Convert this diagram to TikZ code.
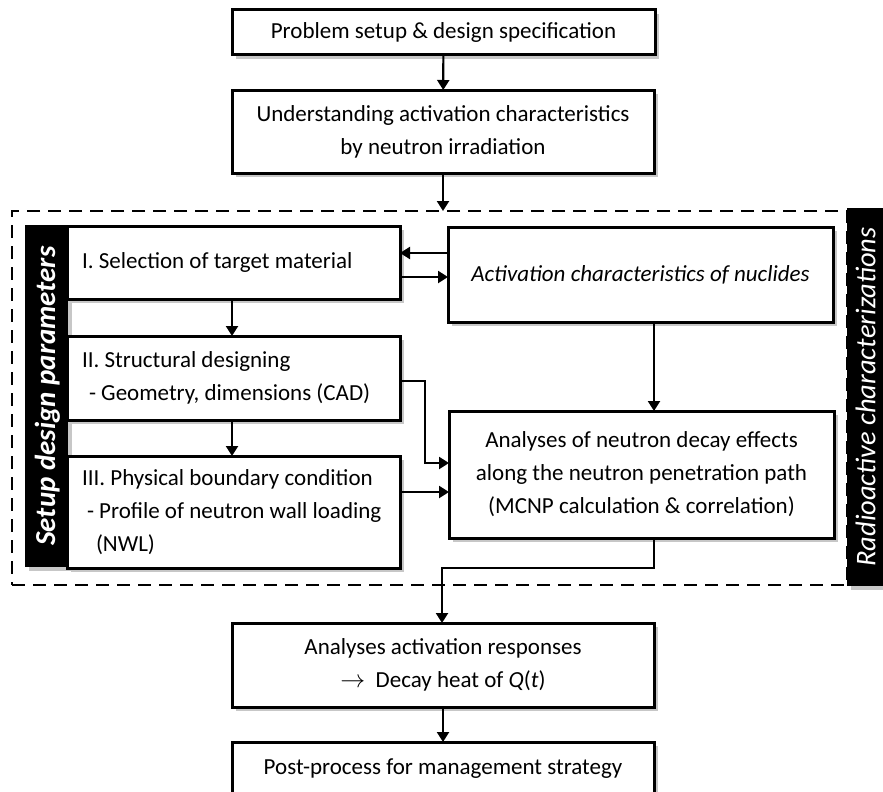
\documentclass[tikz,border=0pt]{standalone}
\usepackage{fontspec}
\setmainfont{Carlito}
\usetikzlibrary{arrows.meta,shadows}
\begin{document}
\frenchspacing
\begin{tikzpicture}[x=1pt,y=-1pt,
  every node/.style={font=\fontsize{23}{33}\selectfont},
  box/.style={draw=black,line width=3pt,fill=white,outer sep=0pt,inner sep=0pt,
    drop shadow={shadow xshift=4pt,shadow yshift=-4pt,fill=black!22,opacity=1}},
  lbox/.style={box,minimum width=333pt,text width=303pt,align=flush left},
  cbox/.style={box,align=center},
  bar/.style={fill=black,outer sep=0pt,inner sep=0pt,text=white,
    drop shadow={shadow xshift=4pt,shadow yshift=-4pt,fill=black!22,opacity=1}},
  conn/.style={line width=2.2pt,-{Triangle[length=10pt,width=12pt]}},
  frame/.style={draw=black,line width=2.8pt,dash pattern=on 13pt off 8pt,outer sep=0pt,inner sep=0pt}
]
\useasboundingbox (0,0) rectangle (883,792);
\clip (0,0) rectangle (883,792);

% dashed frame
\node[frame,minimum width=835pt,minimum height=374pt] (frm) at (429.5,398) {};

% main chain
\node[cbox,minimum width=423pt,minimum height=45pt] (p1) at (443.5,32.5) {Problem setup \& design specification};
\node[cbox,minimum width=422pt,minimum height=83pt] (p2) at (443,131.5) {Understanding activation characteristics\\by neutron irradiation};

% left bar and boxes
\node[bar,minimum width=43pt,minimum height=342pt] (lb) at (46.5,396) {};
\node[text=white,rotate=90,inner sep=0pt,font=\fontsize{29}{34}\selectfont\bfseries\itshape] (lbt) at ([xshift=1pt]lb.center) {Setup design parameters};

\node[lbox,minimum height=73pt] (s1) at (233.5,262.5) {I. Selection of target material};
\node[lbox,minimum height=84pt] (s2) at (233.5,378) {II. Structural designing\\\hspace*{7pt}- Geometry, dimensions (CAD)};
\node[lbox,minimum height=112pt] (s3) at (233.5,512) {III. Physical boundary condition\\\hspace*{5pt}- Profile of neutron wall loading\\\hspace*{14pt}(NWL)};

% right boxes
\node[cbox,minimum width=385pt,minimum height=95pt] (act) at (640.5,274.5) {\itshape Activation characteristics of nuclides};
\node[cbox,minimum width=385pt,minimum height=127pt] (an) at (641.5,474.5) {Analyses of neutron decay effects\\along the neutron penetration path\\(MCNP calculation \& correlation)};

% right bar
\node[bar,minimum width=43pt,minimum height=378pt] (rb) at (868.5,397) {};
\node[text=white,rotate=90,inner sep=0pt,font=\fontsize{28.5}{32}\selectfont\itshape] (rbt) at ([xshift=-3pt]rb.center) {Radioactive characterizations};

% bottom chain
\node[cbox,minimum width=422pt,minimum height=84pt] (resp) at (443,665) {Analyses activation responses\\$\rightarrow$\ \ Decay heat of \textit{Q}(\textit{t})};
\node[cbox,minimum width=422pt,minimum height=53pt] (post) at (443,768.5) {Post-process for management strategy};

% helper coordinates
\coordinate (ax) at (654,0);
\coordinate (jx) at (425,0);
\coordinate (ry) at (0,568);
\coordinate (rx) at (442,0);
\coordinate (dx) at (232,0);

% connectors
\draw[conn] (p1) -- (p2);
\draw[conn] (p2) -- (p2.south |- frm.north);
\draw[conn] (s1.south -| dx) -- (s2.north -| dx);
\draw[conn] (s2.south -| dx) -- (s3.north -| dx);
\draw[conn] (act.west |- 0,253) -- (s1.east |- 0,253);
\draw[conn] (s1.east |- 0,277) -- (act.west |- 0,277);
\draw[conn] (act.south -| ax) -- (an.north -| ax);
\draw[conn] (s2.east |- 0,381) -| (jx |- 0,463) -- (an.west |- 0,463);
\draw[conn] (s3.east |- 0,492) -- (an.west |- 0,492);
\draw[conn] (an.south -| ax) -- (ax |- ry) -- (rx |- ry) -- (resp.north -| rx);
\draw[conn] (resp) -- (post);
\end{tikzpicture}
\end{document}
